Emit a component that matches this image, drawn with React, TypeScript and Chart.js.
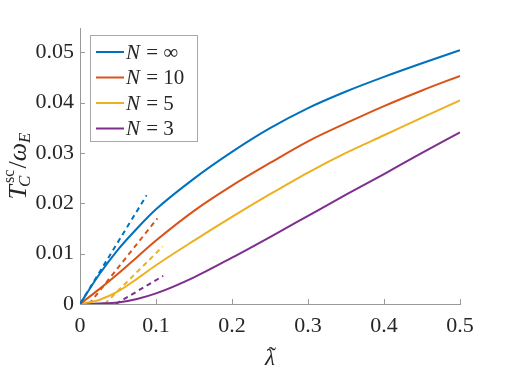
import React, { useEffect, useRef } from 'react';
import { Chart, registerables } from 'chart.js';

Chart.register(...registerables);

// ---- data ----
const lambdaGrid = [0, 0.025, 0.05, 0.075, 0.1, 0.15, 0.2, 0.25, 0.3, 0.35, 0.4, 0.45, 0.5];
const tcInf = [0, 0.0058, 0.0108, 0.015, 0.0188, 0.0249, 0.0302, 0.0349, 0.0389, 0.0422, 0.0451, 0.0478, 0.0504];
const tc10 = [0, 0.0029, 0.006, 0.0093, 0.0126, 0.0185, 0.0235, 0.028, 0.0323, 0.0359, 0.0393, 0.0424, 0.0453];
const tc5 = [0, 0.0008, 0.0025, 0.005, 0.0077, 0.0126, 0.0173, 0.0218, 0.0261, 0.03, 0.0335, 0.037, 0.0404];
const tc3 = [0, 0.0001, 0.0003, 0.001, 0.0021, 0.0053, 0.0092, 0.0133, 0.0175, 0.0217, 0.0258, 0.03, 0.0341];

// small-λ asymptotes (dashed)
const dashInfX = [0, 0.0877];
const dashInfY = [0, 0.0216];
const dash10X = [0.012, 0.1018];
const dash10Y = [0, 0.017];
const dash5X = [0.0325, 0.1088];
const dash5Y = [0, 0.0114];
const dash3X = [0.047, 0.1096];
const dash3Y = [0, 0.0056];

const legendValues = ['∞', '10', '5', '3'];
const seriesColors = ['#0072BD', '#D95319', '#EDB120', '#7E2F8E'];

const xTicks = [0, 0.1, 0.2, 0.3, 0.4, 0.5];
const xTickLabels = ['0', '0.1', '0.2', '0.3', '0.4', '0.5'];
const yTicks = [0, 0.01, 0.02, 0.03, 0.04, 0.05];
const yTickLabels = ['0', '0.01', '0.02', '0.03', '0.04', '0.05'];

const SERIF = '"Liberation Serif", serif';
const AXIS_GRAY = '#9a9a9a';
const TEXT = '#262626';

const toPts = (xs: number[], ys: number[]) => xs.map((x, i) => ({ x, y: ys[i] }));

const solidSets = [tcInf, tc10, tc5, tc3];
const dashSets = [
  [dashInfX, dashInfY],
  [dash10X, dash10Y],
  [dash5X, dash5Y],
  [dash3X, dash3Y],
];

const decorPlugin = {
  id: 'decor',
  beforeDatasetsDraw(chart: any) {
    const { ctx, scales, chartArea } = chart;
    ctx.save();
    ctx.strokeStyle = AXIS_GRAY;
    ctx.lineWidth = 1;
    ctx.beginPath();
    xTicks.forEach((t) => {
      const px = Math.round(scales.x.getPixelForValue(t)) + 0.5;
      ctx.moveTo(px, chartArea.bottom);
      ctx.lineTo(px, chartArea.bottom - 5);
    });
    yTicks.forEach((t) => {
      const py = Math.round(scales.y.getPixelForValue(t)) + 0.5;
      ctx.moveTo(chartArea.left, py);
      ctx.lineTo(chartArea.left + 5, py);
    });
    ctx.stroke();
    ctx.restore();
  },
  afterDraw(chart: any) {
    const { ctx, chartArea } = chart;
    ctx.save();
    // legend box
    const bx = 90.5, by = 35.5, bw = 107, bh = 106;
    ctx.fillStyle = '#ffffff';
    ctx.fillRect(bx, by, bw, bh);
    ctx.strokeStyle = '#a8a8a8';
    ctx.lineWidth = 1;
    ctx.strokeRect(bx, by, bw, bh);
    const rows = [52, 77.5, 103, 128.5];
    legendValues.forEach((v, i) => {
      const y = rows[i];
      ctx.strokeStyle = seriesColors[i];
      ctx.lineWidth = 2;
      ctx.beginPath();
      ctx.moveTo(96, y);
      ctx.lineTo(124, y);
      ctx.stroke();
      ctx.fillStyle = TEXT;
      ctx.textBaseline = 'middle';
      ctx.textAlign = 'left';
      ctx.font = `italic 21px ${SERIF}`;
      ctx.fillText('N', 126, y + 1);
      const w = ctx.measureText('N').width;
      ctx.font = `21px ${SERIF}`;
      ctx.fillText(' = ' + v, 126 + w + 1, y + 1);
    });

    // x-axis title: λ with tilde
    ctx.fillStyle = TEXT;
    ctx.textBaseline = 'alphabetic';
    ctx.textAlign = 'center';
    const cx = (chartArea.left + chartArea.right) / 2;
    ctx.font = `italic 23px ${SERIF}`;
    ctx.fillText('λ', cx, 365);
    ctx.font = `23px ${SERIF}`;
    ctx.fillText('˜', cx + 2, 363);

    // y-axis title (rotated)
    const cy = (chartArea.top + chartArea.bottom) / 2;
    ctx.translate(26, cy);
    ctx.rotate(-Math.PI / 2);
    ctx.textAlign = 'left';
    const big = `italic 26px ${SERIF}`;
    const small = `italic 17px ${SERIF}`;
    const smallUp = `16px ${SERIF}`;
    ctx.font = big;
    const wT = ctx.measureText('T').width;
    const wW = ctx.measureText('ω').width;
    ctx.font = `26px ${SERIF}`;
    const wSl = ctx.measureText('/').width;
    ctx.font = small;
    const wC = ctx.measureText('C').width;
    const wE = ctx.measureText('E').width;
    ctx.font = smallUp;
    const wSc = ctx.measureText('sc').width;
    const midW = Math.max(wC - 2, wSc + 2);
    const total = wT + midW + 1 + wSl + wW + wE;
    let x = -total / 2;
    ctx.font = big;
    ctx.fillText('T', x, 0);
    x += wT;
    ctx.font = smallUp;
    ctx.fillText('sc', x + 2, -12);
    ctx.font = small;
    ctx.fillText('C', x - 2, 4);
    x += midW + 1;
    ctx.font = `26px ${SERIF}`;
    ctx.fillText('/', x, 0);
    x += wSl;
    ctx.font = big;
    ctx.fillText('ω', x, 0);
    x += wW;
    ctx.font = small;
    ctx.fillText('E', x, 4);
    ctx.restore();
  },
};

export default function App() {
  const ref = useRef<HTMLCanvasElement | null>(null);
  useEffect(() => {
    document.body.style.margin = '0';
    const canvas = ref.current;
    if (!canvas) return;
    const datasets: any[] = [];
    solidSets.forEach((ys, i) => {
      datasets.push({
        label: 'N = ' + legendValues[i],
        data: toPts(lambdaGrid, ys),
        borderColor: seriesColors[i],
        borderWidth: 2,
        pointRadius: 0,
        fill: false,
        cubicInterpolationMode: 'monotone',
      });
    });
    dashSets.forEach(([xs, ys], i) => {
      datasets.push({
        label: 'asymptote N = ' + legendValues[i],
        data: toPts(xs, ys),
        borderColor: seriesColors[i],
        borderWidth: 2,
        borderDash: [5, 4],
        pointRadius: 0,
        fill: false,
      });
    });
    const chart = new Chart(canvas, {
      type: 'line',
      data: { datasets },
      options: {
        animation: false,
        responsive: false,
        maintainAspectRatio: false,
        layout: { padding: { left: 0, top: 28, right: 49, bottom: 0 } },
        plugins: { legend: { display: false }, tooltip: { enabled: false } },
        scales: {
          x: {
            type: 'linear',
            min: 0,
            max: 0.5,
            afterBuildTicks: (s: any) => {
              s.ticks = xTicks.map((v) => ({ value: v }));
            },
            afterFit: (s: any) => {
              s.height = 69;
            },
            grid: { display: false, drawTicks: false },
            border: { display: true, color: AXIS_GRAY, width: 1 },
            ticks: {
              padding: 9,
              color: TEXT,
              maxRotation: 0,
              font: { family: SERIF, size: 22 },
              callback: (v: any) => {
                const i = xTicks.findIndex((t) => Math.abs(t - Number(v)) < 1e-9);
                return i >= 0 ? xTickLabels[i] : '';
              },
            },
          },
          y: {
            type: 'linear',
            min: 0,
            max: 0.0548,
            afterBuildTicks: (s: any) => {
              s.ticks = yTicks.map((v) => ({ value: v }));
            },
            afterFit: (s: any) => {
              s.width = 80;
            },
            grid: { display: false, drawTicks: false },
            border: { display: true, color: AXIS_GRAY, width: 1 },
            ticks: {
              padding: 6,
              color: TEXT,
              font: { family: SERIF, size: 22 },
              callback: (v: any) => {
                const i = yTicks.findIndex((t) => Math.abs(t - Number(v)) < 1e-9);
                return i >= 0 ? yTickLabels[i] : '';
              },
            },
          },
        },
      },
      plugins: [decorPlugin],
    });
    return () => chart.destroy();
  }, []);
  return (
    <div style={{ width: 509, height: 373, background: '#fff' }}>
      <canvas ref={ref} width={509} height={373} />
    </div>
  );
}
